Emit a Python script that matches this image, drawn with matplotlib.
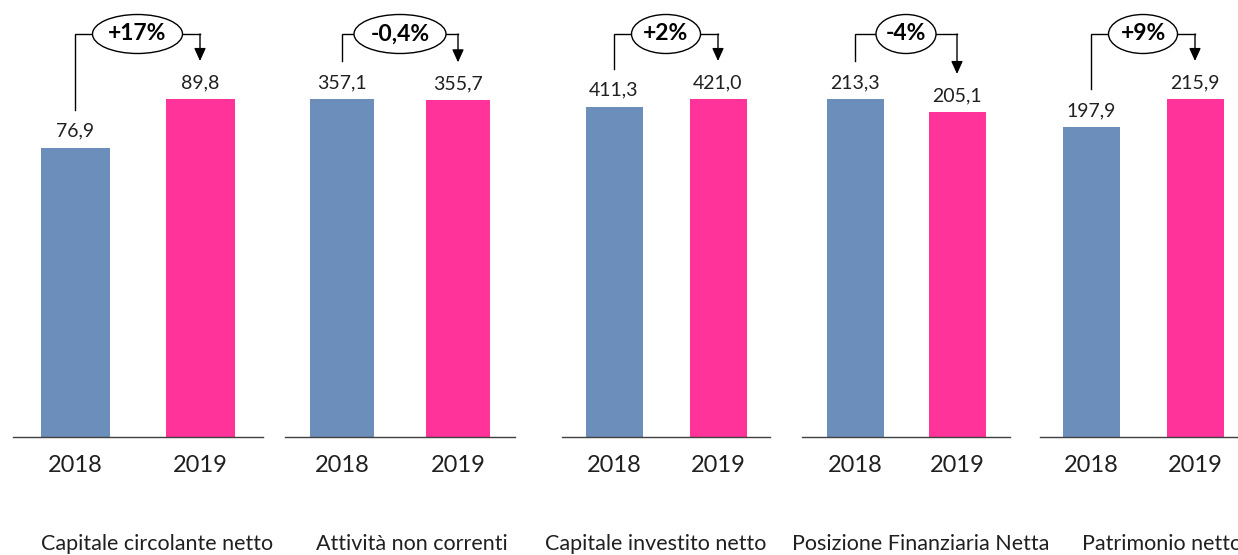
import matplotlib
matplotlib.use('Agg')
import matplotlib.pyplot as plt
from matplotlib.patches import Ellipse

plt.rcParams['font.family'] = ['Lato', 'DejaVu Sans']

# Data
categories = ['Capitale circolante netto', 'Attività non correnti',
              'Capitale investito netto', 'Posizione Finanziaria Netta',
              'Patrimonio netto']
years = ['2018', '2019']
v2018 = [76.9, 357.1, 411.3, 213.3, 197.9]
v2019 = [89.8, 355.7, 421.0, 205.1, 215.9]
changes = ['+17%', '-0,4%', '+2%', '-4%', '+9%']

blue = '#6C8EBA'
pink = '#FF3399'

W, H = 1238, 555
# Panel layout in pixels: axis left/right, bar centers, bar width
panels = [(13, 263, 75, 200, 69),
          (285, 515, 342, 458, 64),
          (562, 770, 614, 718, 57),
          (802, 1010, 855, 957, 57),
          (1040, 1238, 1091, 1195, 57)]
ellipse_w = [90, 92, 69, 60, 69]
title_x = [157, 412, 656, 921, 1162]

base_px = 437   # baseline y (from top)
bar_px = 338    # height of tallest bar in each panel
bracket_px = 34  # y of bracket line (from top)
gap_px = 38     # gap between bar top and bracket end

fig = plt.figure(figsize=(W / 100, H / 100), dpi=100)


def fmt(v):
    return f'{v:.1f}'.replace('.', ',')


for i, (left, right, c0, c1, bw) in enumerate(panels):
    s = c1 - c0
    ax = fig.add_axes([left / W, (H - base_px) / H, (right - left) / W, base_px / H])
    vals = [v2018[i], v2019[i]]
    vmax = max(vals)
    unit = vmax / bar_px  # data units per pixel
    ax.bar([0, 1], vals, width=bw / s, color=[blue, pink])
    ax.set_xlim((left - c0) / s, 1 + (right - c1) / s)
    ax.set_ylim(0, base_px * unit)

    for sp in ['top', 'right', 'left']:
        ax.spines[sp].set_visible(False)
    ax.spines['bottom'].set_color('#404040')
    ax.spines['bottom'].set_linewidth(1.0)
    ax.set_yticks([])
    ax.set_xticks([0, 1])
    ax.set_xticklabels(years, fontsize=17, color='#202020')
    ax.tick_params(axis='x', length=0, pad=13)

    for x, v in zip([0, 1], vals):
        ax.annotate(fmt(v), (x, v), xytext=(0, 8), textcoords='offset points',
                    ha='center', va='baseline', fontsize=14, color='#202020')

    # bracket with change label
    yb = (base_px - bracket_px) * unit
    ew = ellipse_w[i] / s
    eh = 39 * unit
    y0 = vals[0] + gap_px * unit
    y1 = vals[1] + gap_px * unit
    ax.plot([0, 0, 0.5 - ew / 2], [y0, yb, yb], color='black', lw=1.0,
            clip_on=False, solid_joinstyle='miter')
    ax.plot([0.5 + ew / 2, 1], [yb, yb], color='black', lw=1.0,
            clip_on=False, solid_capstyle='projecting')
    ax.annotate('', xy=(1, y1), xytext=(1, yb),
                arrowprops=dict(arrowstyle='-|>,head_length=0.55,head_width=0.25',
                                mutation_scale=14, color='black', lw=1.0,
                                shrinkA=0, shrinkB=0),
                annotation_clip=False)
    ax.add_patch(Ellipse((0.5, yb), ew, eh, facecolor='white',
                         edgecolor='black', lw=1.0, clip_on=False, zorder=3))
    ax.text(0.5, yb, changes[i], ha='center', va='center', fontsize=16.5,
            fontweight='bold', color='black', zorder=4, clip_on=False)

    fig.text(title_x[i] / W, (H - 544) / H, categories[i], ha='center',
             va='center', fontsize=15.5, color='#202020')

fig.savefig('out.png', dpi=100)
